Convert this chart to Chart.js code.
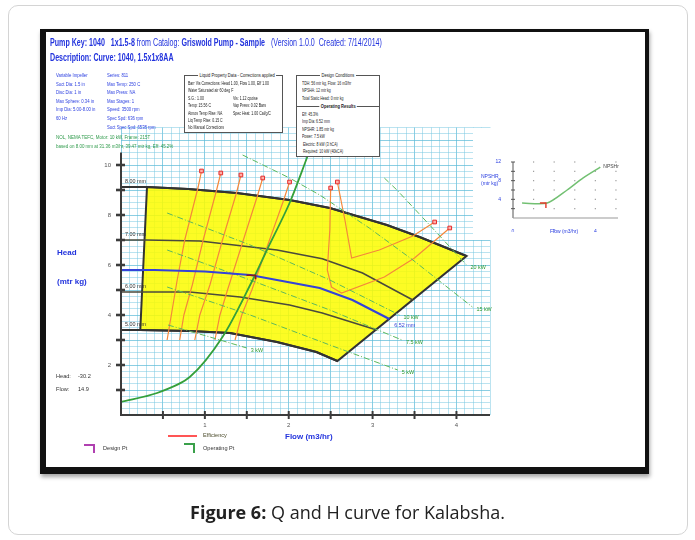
<!DOCTYPE html>
<html>
<head>
<meta charset="utf-8">
<script src="https://cdn.jsdelivr.net/npm/chart.js@4.4.1/dist/chart.umd.min.js"></script>
<style>
  html, body { margin: 0; padding: 0; background: #fff; }
  #page { position: relative; width: 695px; height: 540px; overflow: hidden;
          font-family: "Liberation Sans", Arial, sans-serif; }
  .card { position: absolute; left: 8px; top: 5px; width: 680px; height: 530px;
          border: 1px solid #d4d4d4; border-radius: 10px; box-sizing: border-box; }
  .frame { position: absolute; left: 40px; top: 29px; width: 609px; height: 445px; box-sizing: border-box;
           border-style: solid; border-color: #111; border-width: 3px 4px 7px 6px;
           box-shadow: 1px 3px 4px rgba(0,0,0,.35); }
  canvas { position: absolute; }
  #main { left: 0; top: 0; z-index: 1; }
  #npsh { left: 473px; top: 128px; z-index: 2; background: #fff; }
  .t { position: absolute; white-space: nowrap; z-index: 3; line-height: 1; }
  .nar { transform-origin: 0 0; }
  .hdr { color: #2233dd; font-size: 10px; transform: scaleX(.71); }
  .hdr b { font-weight: bold; }
  .info { color: #2a3ee0; font-size: 5.6px; line-height: 8.6px; transform: scaleX(.76); }
  .grn { color: #2e9a4a; font-size: 5.6px; line-height: 9px; transform: scaleX(.8); }
  .box { position: absolute; z-index: 3; background: #fff; border: 1px solid #555; box-sizing: border-box; }
  .box .ttl { position: absolute; top: -4px; left: 0; right: 0; text-align: center; font-size: 5.4px; color: #222; white-space: nowrap; }
  .box .ttl span { display: inline-block; background: #fff; padding: 0 2px; transform: scaleX(.75); }
  .box .rows { position: absolute; left: 3px; top: 4px; font-size: 5.2px; line-height: 7.4px; color: #222;
               white-space: nowrap; transform: scaleX(.68); transform-origin: 0 0; }
  .box .c2 { position: absolute; left: 66px; }
  .sep { position: absolute; left: 0; right: 0; border-top: 1px solid #555; }
  .axlab { color: #2233dd; font-weight: bold; font-size: 8px; }
  .small { font-size: 5.6px; color: #333; }
  .mark { position: absolute; z-index: 3; box-sizing: border-box; }
  .caption { position: absolute; left: 0; width: 695px; top: 500px; text-align: center; z-index: 3;
             font-family: "Open Sans", Arial, sans-serif; font-size: 18px; color: #222; }
</style>
</head>
<body>
<div id="page">
  <div class="card"></div>
  <div class="frame"></div>
  <canvas id="main" width="695" height="540"></canvas>
  <canvas id="npsh" width="170" height="112"></canvas>

  <div class="t nar hdr" style="left:50px;top:38px"><b>Pump Key: 1040&nbsp;&nbsp; 1x1.5-8</b> from Catalog: <b>Griswold Pump - Sample</b>&nbsp;&nbsp; (Version 1.0.0&nbsp; Created: 7/14/2014)</div>
  <div class="t nar hdr" style="left:50px;top:53px"><b>Description: Curve: 1040, 1.5x1x8AA</b></div>

  <div class="t nar info" style="left:56px;top:71px">Variable Impeller<br>Suct Dia: 1.5 in<br>Disc Dia: 1 in<br>Max Sphere: 0.34 in<br>Imp Dia: 5.00-8.00 in<br>60 Hz</div>
  <div class="t nar info" style="left:107px;top:71px">Series: 811<br>Max Temp: 250 C<br>Max Press: NA<br>Max Stages: 1<br>Speed: 3500 rpm<br>Spec Spd: 636 rpm<br>Suct Spec Spd: 6538 rpm</div>
  <div class="t nar grn" style="left:56px;top:133px">NOL, NEMA TEFC, Motor: 10 kW, Frame: 215T<br>based on 8.00 mm at 31.36 m3/hr, 39.47 mtr kg, Eff: 45.2%</div>

  <div class="box" style="left:184px;top:75px;width:99px;height:58px">
    <div class="ttl"><span>Liquid Property Data - Corrections applied</span></div>
    <div class="rows">Barr Vis Corrections: Head 1.00, Flow 1.00, Eff 1.00<br>Water Saturated air 60 deg F<br>S.G.: 1.00<span class="c2">Vis: 1.12 cpoise</span><br>Temp: 15.56 C<span class="c2">Vap Press: 0.02 Bars</span><br>Atmos Temp Rise: NA<span class="c2">Spec Heat: 1.00 Cal/g/C</span><br>Liq Temp Rise: 0.15 C<br>No Manual Corrections</div>
  </div>

  <div class="box" style="left:296px;top:75px;width:84px;height:82px">
    <div class="ttl"><span>Design Conditions</span></div>
    <div class="rows" style="left:5px">TDH: 56 mtr kg, Flow: 16 m3/hr<br>NPSHA: 12 mtr kg<br>Total Static Head: 0 mtr kg</div>
    <div class="sep" style="top:30px"></div>
    <div class="ttl" style="top:27px"><span><b>Operating Results</b></span></div>
    <div class="rows" style="left:5px;top:35px">Eff: 45.3%<br>Imp Dia: 6.52 mm<br>NPSHR: 1.85 mtr kg<br>Power: 7.5 kW<br>&nbsp;Electric: 8 kW (3 hCA)<br>&nbsp;Required: 10 kW (40kCA)</div>
  </div>

  <div class="t axlab" style="left:57px;top:249px">Head</div>
  <div class="t axlab" style="left:57px;top:278px">(mtr kg)</div>
  <div class="t small" style="left:56px;top:374px">Head:</div>
  <div class="t small" style="left:78px;top:374px">-30.2</div>
  <div class="t small" style="left:56px;top:387px">Flow:</div>
  <div class="t small" style="left:78px;top:387px">14.9</div>

  <div class="mark" style="left:168px;top:435px;width:29px;height:1.5px;background:#f55"></div>
  <div class="t small" style="left:203px;top:433px;color:#4a4a2a">Efficiency</div>
  <div class="t axlab" style="left:285px;top:433px">Flow (m3/hr)</div>
  <div class="mark" style="left:84px;top:444px;width:11px;height:9px;border-top:2px solid #b040b0;border-right:2px solid #b040b0"></div>
  <div class="t small" style="left:103px;top:446px">Design Pt</div>
  <div class="mark" style="left:184px;top:443px;width:11px;height:10px;border-top:2px solid #3aa04a;border-right:2px solid #3aa04a"></div>
  <div class="t small" style="left:203px;top:446px">Operating Pt</div>

  <div class="t" style="left:481px;top:173px;color:#2a3ee0;font-size:5px;line-height:7px">NPSHR<br>(mtr kg)</div>
  <div class="t" style="left:550px;top:229px;color:#2a3ee0;font-size:5px">Flow (m3/hr)</div>

  <div class="caption"><b>Figure 6:</b> Q and H curve for Kalabsha.</div>
</div>

<script>
// ---- Pump curve data: flow in m3/hr, head in mtr kg ----
const flowTickLabels = [1, 2, 3, 4];
const headTickLabels = [2, 4, 6, 8, 10];

// Impeller diameter curves
const imp800Flow = [0, 0.31, 0.80, 1.38, 2.01, 2.49, 3.17, 3.56, 4.12];
const imp800Head = [9.12, 9.12, 9.04, 8.88, 8.60, 8.28, 7.60, 7.12, 6.36];
const imp700Flow = [0, 0.29, 0.94, 1.86, 2.40, 2.88, 3.48];
const imp700Head = [7.00, 7.00, 6.96, 6.60, 6.25, 5.68, 4.60];
const imp600Flow = [0, 0.23, 0.82, 1.42, 2.01, 2.40, 3.05];
const imp600Head = [4.92, 4.92, 4.92, 4.72, 4.40, 4.08, 3.40];
const imp500Flow = [0, 0.23, 0.82, 1.30, 1.86, 2.33, 2.58];
const imp500Head = [3.40, 3.40, 3.36, 3.28, 2.92, 2.52, 2.16];
const impLabels = ['8.00 mm', '7.00 mm', '6.00 mm', '5.00 mm'];

// Trimmed impeller at the duty point
const trimFlow = [0, 0.40, 1.00, 1.54, 2.37, 2.76, 3.20];
const trimHead = [5.80, 5.80, 5.74, 5.60, 5.08, 4.60, 3.84];
const trimLabel = '6.52 mm';

// Iso-efficiency lines
const eff1Flow = [0.96, 0.92, 0.76, 0.67, 0.60, 0.55];
const eff1Head = [9.76, 9.12, 7.00, 5.40, 4.00, 3.00];
const eff2Flow = [1.19, 1.14, 0.98, 0.85, 0.75, 0.70];
const eff2Head = [9.68, 9.00, 7.00, 5.20, 4.00, 3.00];
const eff3Flow = [1.43, 1.38, 1.21, 1.06, 0.94, 0.88];
const eff3Head = [9.60, 8.92, 7.00, 5.20, 4.00, 3.00];
const eff4Flow = [1.69, 1.63, 1.44, 1.27, 1.18, 1.12];
const eff4Head = [9.48, 8.80, 6.80, 5.00, 4.00, 3.00];
const eff5Flow = [2.01, 1.94, 1.75, 1.56, 1.44, 1.36];
const eff5Head = [9.32, 8.60, 6.80, 5.00, 4.00, 3.00];
const eff6Flow = [2.50, 2.49, 2.46, 2.51, 2.63, 3.14, 3.50, 3.92];
const eff6Head = [9.08, 7.40, 5.80, 5.12, 4.88, 5.52, 6.28, 7.48];
const eff7Flow = [2.58, 2.67, 2.75, 3.08, 3.48, 3.74];
const eff7Head = [9.32, 7.80, 6.28, 6.60, 7.16, 7.72];

// Power lines
const kw20Flow = [3.14, 3.29, 3.68, 4.12];
const kw20Head = [9.48, 9.00, 7.60, 6.00];
const kw15Flow = [1.45, 2.01, 2.37, 2.96, 3.48, 4.19];
const kw15Head = [10.40, 9.48, 8.80, 7.48, 6.20, 4.32];
const kw10Flow = [0.55, 1.54, 2.49, 3.32];
const kw10Head = [8.08, 6.80, 5.40, 4.00];
const kw75Flow = [0.55, 1.54, 2.49, 3.35];
const kw75Head = [6.60, 5.40, 4.20, 3.00];
const kw5Flow = [0.55, 1.54, 2.49, 3.30];
const kw5Head = [5.12, 4.00, 2.80, 1.80];
const kw3Flow = [0.56, 1.06, 1.50];
const kw3Head = [3.60, 3.12, 2.68];
const powerLabels = ['20 kW', '15 kW', '10 kW', '7.5 kW', '5 kW', '3 kW'];

// System curve and operating point
const sysFlow = [0, 0.43, 0.82, 1.21, 1.57, 1.74, 2.01, 2.23];
const sysHead = [0.52, 0.88, 1.52, 3.12, 5.40, 6.60, 8.48, 10.40];
const opFlow = 1.58, opHead = 5.55;

// NPSH required curve (small chart)
const npshFlow = [0.44, 1.66, 2.63, 3.41, 4.24];
const npshReq = [3.2, 3.2, 6.0, 8.6, 10.9];
const npshTickLabels = [4, 8, 12];
const npshFlowTickLabels = [0, 2, 4];
const npshDesignFlow = 1.55, npshDesignHead = 3.2;

// ---- helpers ----
const pts = (xs, ys) => xs.map((x, i) => ({ x, y: ys[i] }));
const near = (v, list) => list.some(t => Math.abs(v - t) < 1e-6);
const FONT = '"Liberation Sans", Arial, sans-serif';

// Operating window: max impeller curve, the end-of-curve line, min impeller curve back
const windowPts = pts(
  imp800Flow.slice(1).concat(imp500Flow.slice(1).reverse(), [imp800Flow[1]]),
  imp800Head.slice(1).concat(imp500Head.slice(1).reverse(), [imp800Head[1]])
);

function curve(xs, ys, color, width, extra) {
  return Object.assign({ data: pts(xs, ys), showLine: true, borderColor: color, borderWidth: width,
    pointRadius: 0, fill: false, tension: 0 }, extra || {});
}
function effLine(xs, ys, bothEnds) {
  const r = xs.map((_, i) => (i === 0 || (bothEnds && i === xs.length - 1)) ? 2.6 : 0);
  return curve(xs, ys, '#f5883a', 1.2, { pointRadius: r, pointStyle: 'rect',
    pointBackgroundColor: '#ffb0a8', pointBorderColor: '#e42a2a', pointBorderWidth: 1, order: 5 });
}
function powerLine(xs, ys, label) {
  return curve(xs, ys, '#5cb85c', 1, { borderDash: [6, 2, 1, 2], order: 4, endLabel: label });
}

const datasets = [
  { data: windowPts, showLine: true, fill: 'shape', backgroundColor: 'rgba(252,252,0,0.86)',
    borderColor: '#333', borderWidth: 2, pointRadius: 0, tension: 0, order: 20 },
  curve(imp800Flow, imp800Head, '#333', 2, { order: 8, startLabel: impLabels[0] }),
  curve(imp700Flow, imp700Head, '#4a4a3c', 1.6, { order: 8, startLabel: impLabels[1] }),
  curve(imp600Flow, imp600Head, '#4a4a3c', 1.6, { order: 8, startLabel: impLabels[2] }),
  curve(imp500Flow, imp500Head, '#333', 2, { order: 8, startLabel: impLabels[3] }),
  effLine(eff1Flow, eff1Head), effLine(eff2Flow, eff2Head), effLine(eff3Flow, eff3Head),
  effLine(eff4Flow, eff4Head), effLine(eff5Flow, eff5Head),
  effLine(eff6Flow, eff6Head, true), effLine(eff7Flow, eff7Head, true),
  powerLine(kw20Flow, kw20Head, powerLabels[0]), powerLine(kw15Flow, kw15Head, powerLabels[1]),
  powerLine(kw10Flow, kw10Head, powerLabels[2]), powerLine(kw75Flow, kw75Head, powerLabels[3]),
  powerLine(kw5Flow, kw5Head, powerLabels[4]), powerLine(kw3Flow, kw3Head, powerLabels[5]),
  curve(trimFlow, trimHead, '#3443d8', 2.2, { order: 3, trimLabel: trimLabel }),
  curve(sysFlow, sysHead, '#35a03a', 1.8, { order: 2, tension: 0.3 })
];

const decorations = {
  id: 'decorations',
  afterDatasetsDraw(chart) {
    const { ctx, scales: { x, y }, chartArea: a } = chart;
    ctx.save();
    // axis lines
    ctx.strokeStyle = '#3c3c3c';
    ctx.lineWidth = 2;
    ctx.beginPath();
    ctx.moveTo(a.left, y.getPixelForValue(10.5));
    ctx.lineTo(a.left, a.bottom);
    ctx.lineTo(a.right, a.bottom);
    ctx.stroke();
    // tick marks: every metre of head, every half m3/hr of flow
    ctx.lineWidth = 2.6;
    for (let v = 1; v <= 10; v++) {
      const py = y.getPixelForValue(v);
      ctx.beginPath(); ctx.moveTo(a.left - 5, py); ctx.lineTo(a.left + 4, py); ctx.stroke();
    }
    ctx.lineWidth = 2;
    for (let v = 0.5; v <= 4.01; v += 0.5) {
      const px = x.getPixelForValue(v);
      ctx.beginPath(); ctx.moveTo(px, a.bottom - 4); ctx.lineTo(px, a.bottom + 4); ctx.stroke();
    }
    // curve labels
    ctx.font = '5.4px ' + FONT;
    ctx.textBaseline = 'middle';
    chart.data.datasets.forEach(ds => {
      const first = ds.data[0], last = ds.data[ds.data.length - 1];
      if (ds.startLabel) {
        ctx.fillStyle = '#333';
        ctx.fillText(ds.startLabel, x.getPixelForValue(first.x) + 4, y.getPixelForValue(first.y) - 5);
      }
      if (ds.endLabel) {
        ctx.fillStyle = '#2e9a2e';
        ctx.fillText(ds.endLabel, x.getPixelForValue(last.x) + 4, y.getPixelForValue(last.y) + 3);
      }
      if (ds.trimLabel) {
        ctx.fillStyle = '#3443d8';
        ctx.fillText(ds.trimLabel, x.getPixelForValue(last.x) + 5, y.getPixelForValue(last.y) + 7);
      }
    });
    // operating point mark
    const ox = x.getPixelForValue(opFlow), oy = y.getPixelForValue(opHead);
    ctx.strokeStyle = '#8a1a1a';
    ctx.lineWidth = 1.6;
    ctx.beginPath();
    ctx.moveTo(ox - 7, oy - 1); ctx.lineTo(ox + 2, oy - 1); ctx.lineTo(ox + 2, oy + 3);
    ctx.stroke();
    ctx.restore();
  }
};

new Chart(document.getElementById('main'), {
  type: 'scatter',
  data: { datasets },
  options: {
    responsive: false, animation: false, devicePixelRatio: 1,
    layout: { padding: { left: 101, top: 127.5, right: 205, bottom: 105 } },
    plugins: { legend: { display: false }, tooltip: { enabled: false } },
    scales: {
      x: {
        type: 'linear', min: 0, max: 4.4,
        afterFit: s => { s.height = 20; },
        border: { display: false },
        grid: { drawTicks: false, lineWidth: 1,
          color: c => (c.tick && near(c.tick.value * 2, [Math.round(c.tick.value * 2)])) ? 'rgba(90,185,215,0.7)' : 'rgba(120,200,225,0.5)' },
        ticks: { stepSize: 0.1, autoSkip: false, maxRotation: 0, padding: 7, color: '#555',
          font: { size: 6, family: FONT },
          callback: v => near(v, flowTickLabels) ? String(Math.round(v)) : '' }
      },
      y: {
        type: 'linear', min: 0, max: 11.5,
        afterFit: s => { s.width = 20; },
        border: { display: false },
        grid: { drawTicks: false, lineWidth: 1,
          color: c => (c.tick && near(c.tick.value, [Math.round(c.tick.value)])) ? 'rgba(90,185,215,0.7)' : 'rgba(120,200,225,0.5)' },
        ticks: { stepSize: 0.25, autoSkip: false, padding: 10, color: '#555',
          font: { size: 6, family: FONT },
          callback: v => near(v, headTickLabels) ? String(Math.round(v)) : '' }
      }
    }
  },
  plugins: [decorations]
});

// ---- NPSH required chart ----
const npshMarks = {
  id: 'npshMarks',
  beforeDatasetsDraw(chart) {
    const { ctx, scales: { x, y }, chartArea: a } = chart;
    ctx.save();
    ctx.fillStyle = '#9a9a9a';
    for (let fx = 1; fx <= 5; fx++) {
      for (let hy = 2; hy <= 12; hy += 2) {
        ctx.fillRect(x.getPixelForValue(fx) - 0.6, y.getPixelForValue(hy) - 0.6, 1.2, 1.2);
      }
    }
    ctx.strokeStyle = '#555'; ctx.lineWidth = 1;
    ctx.beginPath(); ctx.moveTo(a.left, a.top); ctx.lineTo(a.left, a.bottom); ctx.stroke();
    ctx.strokeStyle = '#999';
    ctx.beginPath(); ctx.moveTo(a.left, a.bottom); ctx.lineTo(a.right, a.bottom); ctx.stroke();
    ctx.strokeStyle = '#555';
    for (let hy = 2; hy <= 12; hy += 2) {
      const py = y.getPixelForValue(hy);
      ctx.beginPath(); ctx.moveTo(a.left - 2, py); ctx.lineTo(a.left + 2, py); ctx.stroke();
    }
    ctx.restore();
  },
  afterDatasetsDraw(chart) {
    const { ctx, scales: { x, y } } = chart;
    const last = chart.data.datasets[0].data.slice(-1)[0];
    ctx.save();
    ctx.font = '5px ' + FONT;
    ctx.fillStyle = '#444';
    ctx.textBaseline = 'middle';
    ctx.fillText('NPSHr', x.getPixelForValue(last.x) + 3, y.getPixelForValue(last.y) - 1);
    const dx = x.getPixelForValue(npshDesignFlow), dy = y.getPixelForValue(npshDesignHead);
    ctx.strokeStyle = '#e23a2a'; ctx.lineWidth = 1.4;
    ctx.beginPath(); ctx.moveTo(dx - 5, dy); ctx.lineTo(dx + 1, dy); ctx.lineTo(dx + 1, dy + 5); ctx.stroke();
    ctx.restore();
  }
};

new Chart(document.getElementById('npsh'), {
  type: 'scatter',
  data: { datasets: [{ data: pts(npshFlow, npshReq), showLine: true, borderColor: '#72c072',
    borderWidth: 1.5, pointRadius: 0, tension: 0.25 }] },
  options: {
    responsive: false, animation: false, devicePixelRatio: 1,
    layout: { padding: { left: 20, top: 34, right: 25, bottom: 8 } },
    plugins: { legend: { display: false }, tooltip: { enabled: false } },
    scales: {
      x: { type: 'linear', min: 0, max: 5.1, afterFit: s => { s.height = 14; },
        border: { display: false }, grid: { display: false },
        ticks: { stepSize: 1, autoSkip: false, maxRotation: 0, padding: 3, color: '#2a3ee0',
          font: { size: 5, family: FONT },
          callback: v => near(v, npshFlowTickLabels) ? String(v) : '' } },
      y: { type: 'linear', min: 0, max: 12, afterFit: s => { s.width = 20; },
        border: { display: false }, grid: { display: false },
        ticks: { stepSize: 2, autoSkip: false, padding: 4, color: '#2a3ee0',
          font: { size: 5, family: FONT },
          callback: v => near(v, npshTickLabels) ? String(v) : '' } }
    }
  },
  plugins: [npshMarks]
});
</script>
</body>
</html>
